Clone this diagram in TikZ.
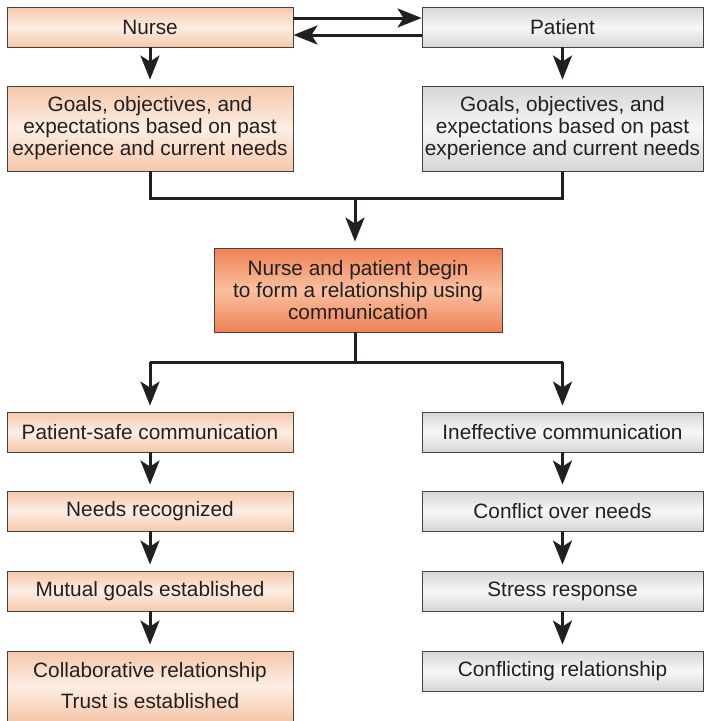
\documentclass[tikz,border=0pt]{standalone}
\usepackage{fontspec}
\setmainfont{Liberation Sans}
\usetikzlibrary{arrows.meta}
\definecolor{ink}{HTML}{231F20}
\definecolor{peachedge}{HTML}{F6C7AA}
\definecolor{peachmid}{HTML}{FDEEE4}
\definecolor{greyedge}{HTML}{D6D6D6}
\definecolor{greymid}{HTML}{F7F7F7}
\definecolor{hotedge}{HTML}{EF8154}
\definecolor{hotmid}{HTML}{FAC0A0}
\tikzset{
  box/.style={draw=ink!85, line width=0.9pt, text=ink, align=center,
    inner sep=0pt, font=\fontsize{20.8}{22}\selectfont, shading=axis},
  peachbox/.style={box, top color=peachedge, bottom color=peachedge, middle color=peachmid},
  greybox/.style={box, top color=greyedge, bottom color=greyedge, middle color=greymid},
  hotbox/.style={box, top color=hotedge, bottom color=hotedge, middle color=hotmid},
  wideL/.style={minimum width=286pt},
  wideR/.style={minimum width=281pt},
  tip/.style={-{Stealth[length=24pt,width=19pt,inset=6pt]}},
  flow/.style={draw=ink, line width=3pt, tip},
  down/.style={flow, shorten >=6pt},
  link/.style={draw=ink, line width=3pt}
}
\begin{document}
\begin{tikzpicture}[x=1pt,y=-1pt]
\useasboundingbox (0,0) rectangle (704,721);
% top row
\node[peachbox, wideL, minimum height=40pt] (nurse) at (150,27) {Nurse};
\node[greybox, wideR, minimum height=40pt] (patient) at (562.5,27) {Patient};
\node[peachbox, wideL, minimum height=85pt] (goalsL) at (150,128.5)
  {Goals, objectives, and\\expectations based on past\\experience and current needs};
\node[greybox, wideR, minimum height=85pt] (goalsR) at (562.5,128.5)
  {Goals, objectives, and\\expectations based on past\\experience and current needs};
% meeting point
\node[hotbox, minimum width=288pt, minimum height=84pt] (meet) at (358,290)
  {Nurse and patient begin\\to form a relationship using\\communication};
% left branch
\node[peachbox, wideL, minimum height=40pt] (safe) at (150,432) {Patient-safe communication};
\node[peachbox, wideL, minimum height=40pt] (needs) at (150,511) {Needs recognized};
\node[peachbox, wideL, minimum height=40pt] (mutual) at (150,591) {Mutual goals established};
\node[peachbox, wideL, minimum height=70pt] (collab) at (150,686)
  {Collaborative relationship\\[9pt]Trust is established};
% right branch
\node[greybox, wideR, minimum height=40pt] (ineff) at (562.5,432) {Ineffective communication};
\node[greybox, wideR, minimum height=40pt] (conflict) at (562.5,511) {Conflict over needs};
\node[greybox, wideR, minimum height=40pt] (stress) at (562.5,591) {Stress response};
\node[greybox, wideR, minimum height=40pt] (conrel) at (562.5,671) {Conflicting relationship};
% junction points
\coordinate (join) at (355,198);
\coordinate (split) at (355,362);
% connectors
\draw[flow] ([yshift=9pt]nurse.east) -- ([yshift=9pt]patient.west);
\draw[flow] ([yshift=-8pt]patient.west) -- ([yshift=-8pt]nurse.east);
\draw[down] (nurse) -- (goalsL);
\draw[down] (patient) -- (goalsR);
\draw[link] (goalsL.south) |- (join) -| (goalsR.south);
\draw[down] (join) -- (join |- meet.north);
\draw[link] (split |- meet.south) -- (split);
\draw[link] (safe.north |- split) -- (ineff.north |- split);
\draw[down] (safe.north |- split) -- (safe.north);
\draw[down] (ineff.north |- split) -- (ineff.north);
\draw[down] (safe) -- (needs);
\draw[down] (needs) -- (mutual);
\draw[down] (mutual) -- (collab);
\draw[down] (ineff) -- (conflict);
\draw[down] (conflict) -- (stress);
\draw[down] (stress) -- (conrel);
\end{tikzpicture}
\end{document}
